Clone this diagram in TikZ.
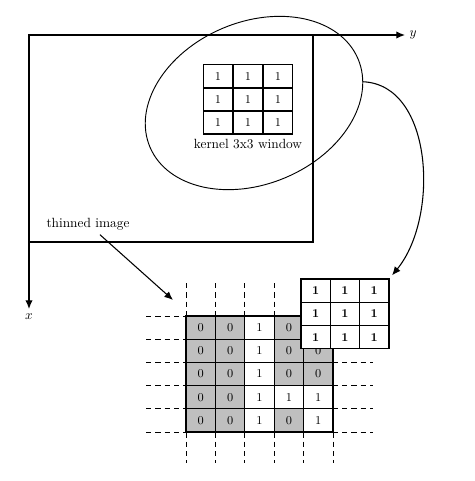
\documentclass[tikz,border=0pt]{standalone}
\usetikzlibrary{positioning,shapes.geometric,arrows.meta}
\begin{document}
\begin{tikzpicture}[x=0.75pt, y=-0.75pt, >={Latex[length=6.5pt,width=5.5pt]},
    cell/.style={rectangle, draw, line width=0.9pt, minimum width=22pt, minimum height=17.4pt, inner sep=0pt},
    window/.style={ellipse, draw, line width=0.7pt, minimum width=169.5pt, minimum height=121.5pt, inner sep=0pt},
    gridline/.style={line width=0.7pt, dash pattern=on 4pt off 3pt},
    axis/.style={->, line width=0.9pt}]
        \tikzstyle{every node}=[font=\small]
        \useasboundingbox (0,0) rectangle (474,481);

          % axes and image frame
          \coordinate (O) at (29,35);
          \coordinate (Y) at (405,35);
          \coordinate (X) at (29,309);
          \draw[line width=0.9pt] (O) rectangle (313,242);
          \draw[axis] (O) -- (Y);
          \draw[axis] (O) -- (X);
          \node[right=0pt of Y, font=\normalsize] (ylab) {$y$};
          \node[below=0pt of X, font=\normalsize] (xlab) {$x$};

          % kernel window
          \node[window, rotate=23] (win) at (254,103) {};
          \foreach \r in {1,2,3}
            \foreach \c in {1,2,3}
              \node[cell] (k\r\c) at ({203+30*(\c-0.5)},{65+23*(\r-0.5)}) {1};
          \node[below=0pt of k32, font=\normalsize] (klab) {kernel 3x3 window};

          % thinned image grid
          \foreach \i in {0,...,5}
            \draw[gridline] ({186+29.4*\i},283) -- ({186+29.4*\i},463);
          \foreach \j in {0,...,5}
            \draw[gridline] (146,{316+23.2*\j}) -- (373,{316+23.2*\j});
          \foreach \v [count=\i from 0] in {0,0,1,0,{}, 0,0,1,0,0, 0,0,1,0,0, 0,0,1,1,1, 0,0,1,0,1}{
            \pgfmathtruncatemacro\r{div(\i,5)+1}
            \pgfmathtruncatemacro\c{mod(\i,5)+1}
            \def\cellfill{gray!50}
            \ifx\v\empty\else\ifnum\v=1 \def\cellfill{white}\fi\fi
            \node[cell, fill=\cellfill] (g\r\c) at ({186+29.4*(\c-0.5)},{316+23.2*(\r-0.5)}) {\v};
          }

          % kernel over the image
          \foreach \r in {1,2,3}
            \foreach \c in {1,2,3}
              \node[cell, fill=white, font=\small\bfseries] (o\r\c) at ({301+29.3*(\c-0.5)},{279+23.3*(\r-0.5)}) {1};

          \node[font=\normalsize] (thin) at (88,224) {thinned image};
          \coordinate (thinend) at (173,300);

          \path[->, line width=0.8pt]
            (thin) edge (thinend);
          \draw[->, line width=0.8pt, shorten >=3pt] (win.-12) .. controls +(70,3) and +(50,-61) .. (o13.north east);

\end{tikzpicture}
\end{document}
